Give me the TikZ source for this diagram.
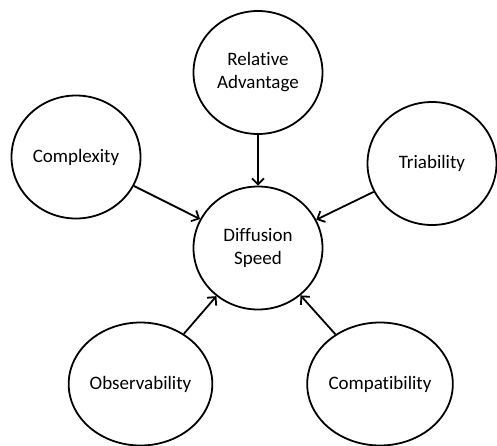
\documentclass[tikz,border=0pt]{standalone}
\usepackage{fontspec}
\setmainfont{Carlito}[Ligatures={NoCommon}]
\usetikzlibrary{shapes.geometric,arrows.meta}
\begin{document}
\begin{tikzpicture}[x=1pt,y=-1pt,
  bubble/.style={ellipse,draw=black,line width=1.8pt,minimum width=129pt,minimum height=123pt,inner sep=0pt,align=center,font=\fontsize{19}{23}\selectfont},
  link/.style={line width=1.8pt,-{Straight Barb[length=6pt,width=12pt,line width=1.8pt]}}]
\useasboundingbox (0,0) rectangle (497,445);
\node[bubble] (ds) at (258,248) {Diffusion\\Speed};
\node[bubble] (ra) at (258,72.5) {Relative\\Advantage};
\node[bubble] (cx) at (76,157) {Complexity};
\node[bubble] (tr) at (432,163.5) {Triability};
\node[bubble] (ob) at (140.5,384) {Observability};
\node[bubble] (cp) at (380,384) {Compatibility};
\draw[link] (ra) -- (ds);
\draw[link] (cx) -- (ds);
\draw[link] (tr) -- (ds);
\draw[link] (ob) -- (ds);
\draw[link] (cp) -- (ds);
\end{tikzpicture}
\end{document}
